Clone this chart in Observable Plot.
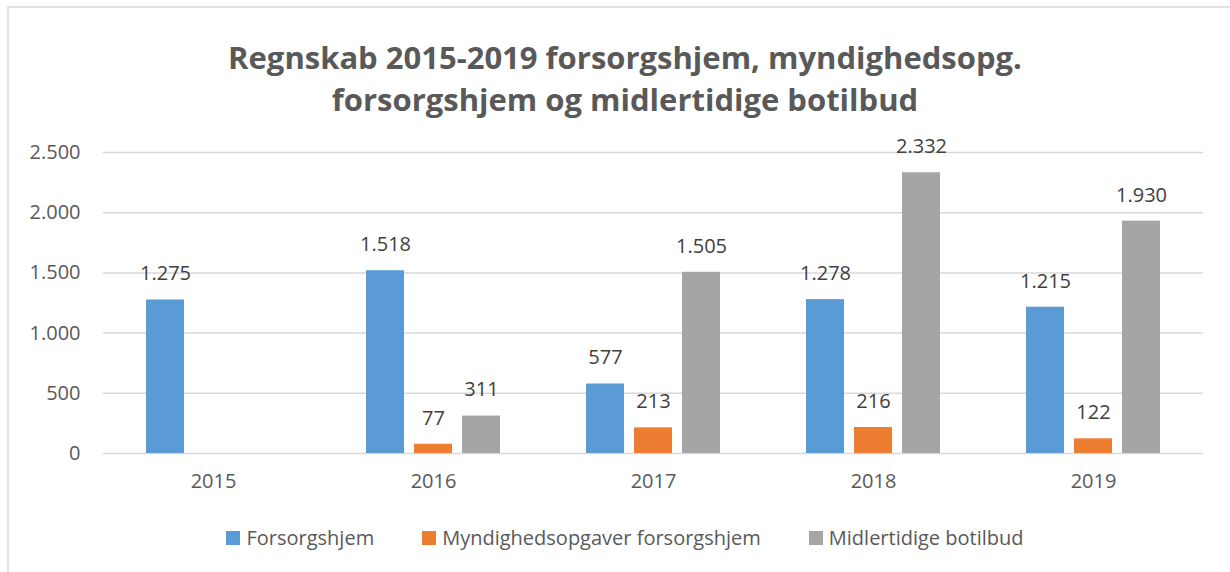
<!DOCTYPE html>
<html>
<head>
<meta charset="utf-8">
<script src="https://cdn.jsdelivr.net/npm/d3@7"></script>
<script src="https://cdn.jsdelivr.net/npm/@observablehq/plot@0.6"></script>
<style>
  html, body { margin: 0; padding: 0; background: #ffffff; }
  body { width: 1230px; height: 572px; position: relative; overflow: hidden; font-family: "Open Sans", sans-serif; }
  #frame { position: absolute; left: 7px; top: 6px; width: 1236px; height: 640px; border: 2px solid #e2e2e2; box-sizing: border-box; }
  #title { position: absolute; left: 7px; width: 1236px; top: 36px; text-align: center; font-weight: 700; font-size: 31px; line-height: 42px; color: #595959; }
  #chart { position: absolute; left: 0; top: 120px; }
  #legend { position: absolute; left: 7px; width: 1236px; top: 524px; display: flex; justify-content: center; gap: 48px; font-size: 20px; color: #595959; }
  .item { display: flex; align-items: center; gap: 6px; }
  .sw { width: 14px; height: 14px; display: inline-block; }
</style>
</head>
<body>
<div id="frame"></div>
<div id="title"></div>
<div id="chart"></div>
<div id="legend"></div>
<script>
const titleLines = ["Regnskab 2015-2019 forsorgshjem, myndighedsopg.", "forsorgshjem og midlertidige botilbud"];
const years = ["2015", "2016", "2017", "2018", "2019"];
const seriesNames = ["Forsorgshjem", "Myndighedsopgaver forsorgshjem", "Midlertidige botilbud"];
const seriesColors = ["#5B9BD5", "#ED7D31", "#A5A5A5"];
const forsorgshjem = [1275, 1518, 577, 1278, 1215];
const myndighedsopgaver = [0, 77, 213, 216, 122];
const midlertidige = [0, 311, 1505, 2332, 1930];
const yTicks = [0, 500, 1000, 1500, 2000, 2500];
const yTickLabels = ["0", "500", "1.000", "1.500", "2.000", "2.500"];

const seriesValues = [forsorgshjem, myndighedsopgaver, midlertidige];
const data = [];
years.forEach((yr, i) => {
  seriesNames.forEach((s, j) => data.push({year: yr, series: s, value: seriesValues[j][i]}));
});

const fmt = d3.formatLocale({decimal: ",", thousands: ".", grouping: [3], currency: ["", ""]}).format(",d");

document.getElementById("title").innerHTML = titleLines.map(t => `<div>${t}</div>`).join("");

const chart = Plot.plot({
  width: 1230,
  height: 383,
  marginLeft: 103,
  marginRight: 27,
  marginTop: 32,
  marginBottom: 50,
  style: {fontFamily: "Open Sans, sans-serif", fontSize: "20px", color: "#595959", background: "transparent"},
  fx: {domain: years, padding: 0, label: null},
  x: {domain: seriesNames, paddingInner: 0.21, paddingOuter: 0.865, axis: null},
  y: {domain: [0, 2500], label: null},
  color: {domain: seriesNames, range: seriesColors},
  marks: [
    Plot.ruleY(yTicks, {stroke: "#d9d9d9", strokeWidth: 1.5}),
    Plot.barY(data, {fx: "year", x: "series", y: "value", fill: "series"}),
    Plot.text(data.filter(d => d.value > 0), {fx: "year", x: "series", y: "value", text: d => fmt(d.value), dy: -26, fill: "#404040", fontSize: 20}),
    Plot.axisY({ticks: yTicks, tickFormat: (d) => yTickLabels[yTicks.indexOf(d)], tickSize: 0, tickPadding: 23, fontSize: 20, fill: "#595959", label: null}),
    Plot.axisFx({anchor: "bottom", tickSize: 0, tickPadding: 20, fontSize: 20, fill: "#595959", label: null})
  ]
});
document.getElementById("chart").appendChild(chart);

document.getElementById("legend").innerHTML = seriesNames.map((s, i) =>
  `<div class="item"><span class="sw" style="background:${seriesColors[i]}"></span><span>${s}</span></div>`).join("");
</script>
</body>
</html>
